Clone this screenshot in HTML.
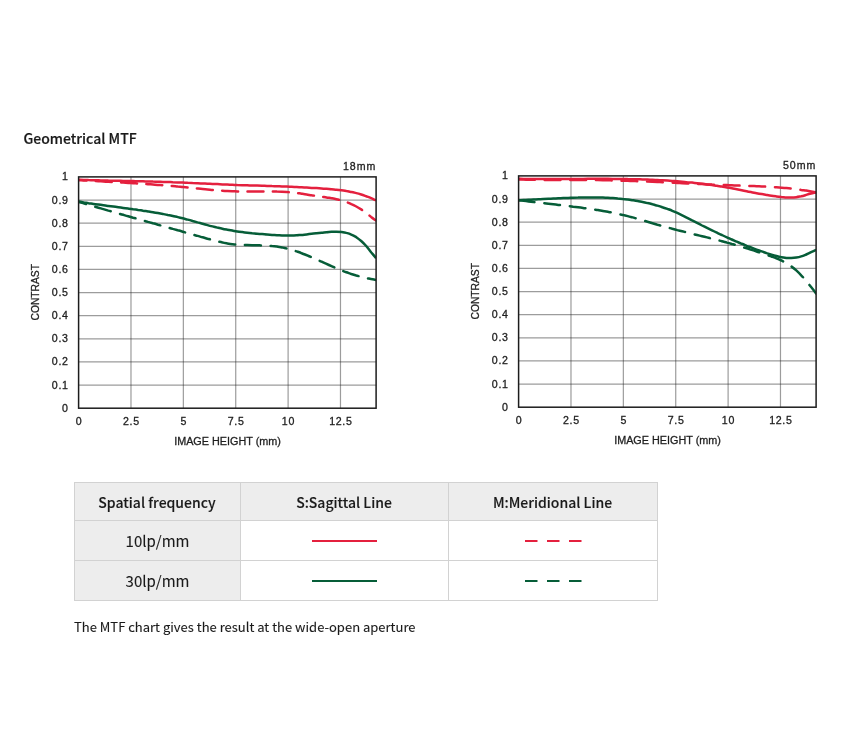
<!DOCTYPE html>
<html lang="en">
<head>
<meta charset="utf-8">
<title>Geometrical MTF</title>
<style>
html,body{margin:0;padding:0;background:#fff;}
body{width:848px;height:741px;position:relative;overflow:hidden;font-family:"Noto Sans CJK JP","Liberation Sans",sans-serif;color:#1a1a1a;}
h2{-webkit-text-stroke:0.2px #1a1a1a;position:absolute;left:23.5px;top:128px;margin:0;font-size:14px;line-height:21px;font-weight:500;color:#1a1a1a;white-space:nowrap;}
svg.charts{position:absolute;left:0;top:0;filter:blur(0.3px);}
svg.charts .lbl text{font-family:"Liberation Sans",sans-serif;font-size:10.6px;fill:#1e1e1e;stroke:#1e1e1e;stroke-width:0.3px;}
svg.charts .lbl text.ax{font-size:11px;}
table{position:absolute;left:74px;top:482px;width:583px;border-collapse:collapse;table-layout:fixed;}
td,th{border:1px solid #d2d2d2;height:40px;padding:0;text-align:center;vertical-align:middle;font-size:14px;font-weight:500;color:#1a1a1a;box-sizing:border-box;}
th,td.h{background:#ededed;}
th{height:38px;padding:1px 1px 0 0;-webkit-text-stroke:0.12px #1a1a1a;}
td.h{font-weight:400;font-size:15px;-webkit-text-stroke:0.1px #1a1a1a;}
col.c1{width:166px;} col.c2{width:208px;} col.c3{width:209px;}
.ln{display:block;margin:0 auto;}
p.note{-webkit-text-stroke:0.1px #1a1a1a;position:absolute;left:74px;top:617px;margin:0;font-size:13px;line-height:20px;color:#1a1a1a;white-space:nowrap;}
</style>
</head>
<body>
<h2>Geometrical MTF</h2>
<svg class="charts" width="848" height="470" viewBox="0 0 848 470">
<path d="M78.60,385.07H376.10M78.60,361.94H376.10M78.60,338.81H376.10M78.60,315.68H376.10M78.60,292.55H376.10M78.60,269.42H376.10M78.60,246.29H376.10M78.60,223.16H376.10M78.60,200.03H376.10" stroke="#1e1e1e" stroke-opacity="0.44" stroke-width="1.2" fill="none"/>
<path d="M130.98,176.90V408.20M183.35,176.90V408.20M235.73,176.90V408.20M288.11,176.90V408.20M340.48,176.90V408.20" stroke="#1e1e1e" stroke-opacity="0.44" stroke-width="1.2" fill="none"/>
<clipPath id="clip18mm"><rect x="78.60" y="176.90" width="297.50" height="231.30"/></clipPath><g clip-path="url(#clip18mm)">
<path d="M78.6,180.2C79.4,180.2 81.9,180.4 83.6,180.5C85.2,180.5 86.9,180.6 88.5,180.7C90.2,180.8 91.8,180.9 93.5,181.0C95.1,181.0 96.8,181.1 98.4,181.2C100.1,181.3 101.7,181.4 103.4,181.5C105.0,181.6 106.7,181.7 108.3,181.8C110.0,181.8 111.7,181.9 113.3,182.0C115.0,182.1 116.6,182.2 118.3,182.3C119.9,182.4 121.6,182.5 123.2,182.6C124.9,182.7 126.5,182.8 128.2,182.9C129.8,183.0 131.5,183.1 133.1,183.2C134.8,183.3 136.4,183.4 138.1,183.5C139.8,183.6 141.4,183.7 143.1,183.9C144.7,184.0 146.4,184.1 148.0,184.2C149.7,184.3 151.3,184.4 153.0,184.5C154.6,184.7 156.3,184.8 157.9,184.9C159.6,185.0 161.2,185.2 162.9,185.3C164.5,185.4 166.2,185.6 167.8,185.7C169.5,185.8 171.2,186.0 172.8,186.1C174.5,186.3 176.1,186.4 177.8,186.6C179.4,186.7 181.1,186.9 182.7,187.0C184.4,187.2 186.0,187.4 187.7,187.5C189.3,187.7 191.0,187.9 192.6,188.0C194.3,188.2 195.9,188.4 197.6,188.5C199.3,188.7 200.9,188.9 202.6,189.0C204.2,189.2 205.9,189.4 207.5,189.5C209.2,189.7 210.8,189.8 212.5,190.0C214.1,190.1 215.8,190.3 217.4,190.4C219.1,190.5 220.7,190.6 222.4,190.7C224.0,190.9 225.7,191.0 227.3,191.0C229.0,191.1 230.7,191.2 232.3,191.3C234.0,191.3 235.6,191.4 237.3,191.4C238.9,191.4 240.6,191.5 242.2,191.5C243.9,191.5 245.5,191.5 247.2,191.5C248.8,191.5 250.5,191.5 252.1,191.5C253.8,191.5 255.4,191.5 257.1,191.5C258.8,191.5 260.4,191.5 262.1,191.5C263.7,191.5 265.4,191.5 267.0,191.5C268.7,191.5 270.3,191.5 272.0,191.5C273.6,191.5 275.3,191.5 276.9,191.6C278.6,191.6 280.2,191.6 281.9,191.7C283.5,191.8 285.2,191.9 286.9,192.0C288.5,192.1 290.2,192.2 291.8,192.4C293.5,192.6 295.1,192.8 296.8,193.0C298.4,193.2 300.1,193.5 301.7,193.7C303.4,194.0 305.0,194.3 306.7,194.5C308.3,194.8 310.0,195.0 311.6,195.3C313.3,195.5 314.9,195.8 316.6,196.0C318.3,196.3 319.9,196.5 321.6,196.7C323.2,196.9 324.9,197.2 326.5,197.4C328.2,197.7 329.8,197.9 331.5,198.2C333.1,198.5 334.8,198.8 336.4,199.2C338.1,199.6 339.7,200.0 341.4,200.5C343.0,201.0 344.7,201.5 346.4,202.1C348.0,202.7 349.7,203.3 351.3,204.1C353.0,204.8 354.6,205.6 356.3,206.5C357.9,207.4 359.6,208.4 361.2,209.4C362.9,210.5 364.5,211.7 366.2,212.9C367.8,214.1 369.5,215.6 371.1,216.9C372.8,218.2 375.3,220.0 376.1,220.6" stroke="#e4203e" stroke-width="2.5" fill="none" stroke-linecap="round" stroke-dasharray="15.99 9.37" stroke-dashoffset="8.20"/>
<path d="M78.6,179.8C79.4,179.8 81.9,179.9 83.6,179.9C85.2,180.0 86.9,180.0 88.5,180.1C90.2,180.1 91.8,180.2 93.5,180.2C95.1,180.3 96.8,180.3 98.4,180.3C100.1,180.4 101.7,180.4 103.4,180.5C105.0,180.5 106.7,180.5 108.3,180.6C110.0,180.6 111.7,180.6 113.3,180.7C115.0,180.7 116.6,180.8 118.3,180.8C119.9,180.8 121.6,180.9 123.2,180.9C124.9,180.9 126.5,181.0 128.2,181.0C129.8,181.0 131.5,181.1 133.1,181.1C134.8,181.1 136.4,181.2 138.1,181.2C139.8,181.3 141.4,181.3 143.1,181.3C144.7,181.4 146.4,181.4 148.0,181.5C149.7,181.5 151.3,181.5 153.0,181.6C154.6,181.6 156.3,181.7 157.9,181.7C159.6,181.8 161.2,181.8 162.9,181.9C164.5,181.9 166.2,182.0 167.8,182.0C169.5,182.1 171.2,182.1 172.8,182.2C174.5,182.2 176.1,182.3 177.8,182.4C179.4,182.4 181.1,182.5 182.7,182.5C184.4,182.6 186.0,182.7 187.7,182.8C189.3,182.8 191.0,182.9 192.6,183.0C194.3,183.0 195.9,183.1 197.6,183.2C199.3,183.3 200.9,183.4 202.6,183.4C204.2,183.5 205.9,183.6 207.5,183.7C209.2,183.8 210.8,183.8 212.5,183.9C214.1,184.0 215.8,184.1 217.4,184.1C219.1,184.2 220.7,184.3 222.4,184.4C224.0,184.4 225.7,184.5 227.3,184.6C229.0,184.7 230.7,184.7 232.3,184.8C234.0,184.9 235.6,184.9 237.3,185.0C238.9,185.0 240.6,185.1 242.2,185.2C243.9,185.2 245.5,185.3 247.2,185.3C248.8,185.4 250.5,185.4 252.1,185.5C253.8,185.5 255.4,185.6 257.1,185.6C258.8,185.7 260.4,185.7 262.1,185.7C263.7,185.8 265.4,185.8 267.0,185.9C268.7,185.9 270.3,186.0 272.0,186.1C273.6,186.1 275.3,186.2 276.9,186.2C278.6,186.3 280.2,186.3 281.9,186.4C283.5,186.5 285.2,186.5 286.9,186.6C288.5,186.7 290.2,186.8 291.8,186.8C293.5,186.9 295.1,187.0 296.8,187.1C298.4,187.2 300.1,187.2 301.7,187.3C303.4,187.4 305.0,187.5 306.7,187.6C308.3,187.7 310.0,187.8 311.6,187.9C313.3,187.9 314.9,188.0 316.6,188.1C318.3,188.2 319.9,188.3 321.6,188.4C323.2,188.6 324.9,188.7 326.5,188.8C328.2,188.9 329.8,189.1 331.5,189.2C333.1,189.4 334.8,189.5 336.4,189.7C338.1,189.9 339.7,190.1 341.4,190.3C343.0,190.5 344.7,190.8 346.4,191.1C348.0,191.3 349.7,191.7 351.3,192.0C353.0,192.3 354.6,192.7 356.3,193.1C357.9,193.5 359.6,194.0 361.2,194.5C362.9,195.0 364.5,195.6 366.2,196.2C367.8,196.8 369.5,197.4 371.1,198.1C372.8,198.8 375.3,200.1 376.1,200.4" stroke="#e4203e" stroke-width="2.5" fill="none"/>
<path d="M78.6,201.8C79.4,202.1 81.9,202.8 83.6,203.3C85.2,203.8 86.9,204.3 88.5,204.8C90.2,205.2 91.8,205.7 93.5,206.2C95.1,206.7 96.8,207.2 98.4,207.7C100.1,208.2 101.7,208.6 103.4,209.1C105.0,209.6 106.7,210.1 108.3,210.6C110.0,211.0 111.7,211.5 113.3,212.0C115.0,212.5 116.6,212.9 118.3,213.4C119.9,213.9 121.6,214.4 123.2,214.8C124.9,215.3 126.5,215.8 128.2,216.2C129.8,216.7 131.5,217.2 133.1,217.7C134.8,218.1 136.4,218.6 138.1,219.1C139.8,219.5 141.4,220.0 143.1,220.5C144.7,220.9 146.4,221.4 148.0,221.9C149.7,222.3 151.3,222.8 153.0,223.3C154.6,223.7 156.3,224.2 157.9,224.7C159.6,225.1 161.2,225.6 162.9,226.1C164.5,226.5 166.2,227.0 167.8,227.5C169.5,227.9 171.2,228.4 172.8,228.9C174.5,229.3 176.1,229.8 177.8,230.3C179.4,230.7 181.1,231.2 182.7,231.7C184.4,232.2 186.0,232.6 187.7,233.1C189.3,233.6 191.0,234.0 192.6,234.5C194.3,235.0 195.9,235.4 197.6,235.9C199.3,236.4 200.9,236.8 202.6,237.3C204.2,237.8 205.9,238.2 207.5,238.7C209.2,239.1 210.8,239.6 212.5,240.0C214.1,240.5 215.8,240.9 217.4,241.3C219.1,241.7 220.7,242.1 222.4,242.4C224.0,242.8 225.7,243.1 227.3,243.4C229.0,243.7 230.7,244.0 232.3,244.2C234.0,244.4 235.6,244.6 237.3,244.7C238.9,244.9 240.6,244.9 242.2,245.0C243.9,245.1 245.5,245.1 247.2,245.1C248.8,245.2 250.5,245.2 252.1,245.2C253.8,245.2 255.4,245.2 257.1,245.3C258.8,245.3 260.4,245.4 262.1,245.4C263.7,245.5 265.4,245.6 267.0,245.7C268.7,245.8 270.3,245.9 272.0,246.1C273.6,246.2 275.3,246.4 276.9,246.6C278.6,246.9 280.2,247.1 281.9,247.4C283.5,247.8 285.2,248.1 286.9,248.5C288.5,248.9 290.2,249.3 291.8,249.8C293.5,250.3 295.1,250.9 296.8,251.4C298.4,252.0 300.1,252.6 301.7,253.3C303.4,253.9 305.0,254.6 306.7,255.2C308.3,255.9 310.0,256.6 311.6,257.3C313.3,258.1 314.9,258.8 316.6,259.5C318.3,260.3 319.9,261.0 321.6,261.7C323.2,262.5 324.9,263.2 326.5,263.9C328.2,264.7 329.8,265.4 331.5,266.1C333.1,266.8 334.8,267.6 336.4,268.3C338.1,269.0 339.7,269.7 341.4,270.4C343.0,271.0 344.7,271.7 346.4,272.3C348.0,272.9 349.7,273.4 351.3,274.0C353.0,274.5 354.6,275.0 356.3,275.5C357.9,275.9 359.6,276.4 361.2,276.8C362.9,277.2 364.5,277.6 366.2,278.0C367.8,278.4 369.5,278.7 371.1,279.1C372.8,279.4 375.3,279.9 376.1,280.1" stroke="#065d38" stroke-width="2.5" fill="none" stroke-linecap="round" stroke-dasharray="16.04 9.74" stroke-dashoffset="8.36"/>
<path d="M78.6,201.6C79.4,201.7 81.9,202.1 83.6,202.4C85.2,202.7 86.9,202.9 88.5,203.2C90.2,203.4 91.8,203.7 93.5,203.9C95.1,204.2 96.8,204.4 98.4,204.6C100.1,204.9 101.7,205.1 103.4,205.3C105.0,205.6 106.7,205.8 108.3,206.0C110.0,206.2 111.7,206.4 113.3,206.6C115.0,206.9 116.6,207.1 118.3,207.3C119.9,207.5 121.6,207.7 123.2,207.9C124.9,208.2 126.5,208.4 128.2,208.6C129.8,208.8 131.5,209.0 133.1,209.3C134.8,209.5 136.4,209.7 138.1,210.0C139.8,210.2 141.4,210.4 143.1,210.7C144.7,210.9 146.4,211.2 148.0,211.4C149.7,211.7 151.3,212.0 153.0,212.2C154.6,212.5 156.3,212.8 157.9,213.1C159.6,213.4 161.2,213.7 162.9,214.0C164.5,214.3 166.2,214.6 167.8,215.0C169.5,215.3 171.2,215.6 172.8,216.0C174.5,216.4 176.1,216.7 177.8,217.1C179.4,217.5 181.1,217.9 182.7,218.3C184.4,218.7 186.0,219.2 187.7,219.6C189.3,220.0 191.0,220.5 192.6,221.0C194.3,221.4 195.9,221.9 197.6,222.4C199.3,222.8 200.9,223.3 202.6,223.7C204.2,224.2 205.9,224.7 207.5,225.1C209.2,225.6 210.8,226.0 212.5,226.4C214.1,226.8 215.8,227.2 217.4,227.6C219.1,228.0 220.7,228.4 222.4,228.7C224.0,229.1 225.7,229.4 227.3,229.7C229.0,230.0 230.7,230.3 232.3,230.6C234.0,230.9 235.6,231.2 237.3,231.4C238.9,231.7 240.6,231.9 242.2,232.1C243.9,232.3 245.5,232.5 247.2,232.7C248.8,232.9 250.5,233.1 252.1,233.3C253.8,233.4 255.4,233.6 257.1,233.7C258.8,233.8 260.4,234.0 262.1,234.1C263.7,234.2 265.4,234.4 267.0,234.5C268.7,234.6 270.3,234.7 272.0,234.9C273.6,235.0 275.3,235.1 276.9,235.2C278.6,235.3 280.2,235.4 281.9,235.5C283.5,235.5 285.2,235.6 286.9,235.6C288.5,235.6 290.2,235.6 291.8,235.5C293.5,235.5 295.1,235.4 296.8,235.3C298.4,235.2 300.1,235.0 301.7,234.9C303.4,234.7 305.0,234.6 306.7,234.4C308.3,234.2 310.0,234.0 311.6,233.8C313.3,233.7 314.9,233.5 316.6,233.3C318.3,233.1 319.9,232.9 321.6,232.7C323.2,232.5 324.9,232.4 326.5,232.2C328.2,232.1 329.8,231.9 331.5,231.8C333.1,231.7 334.8,231.7 336.4,231.7C338.1,231.7 339.7,231.8 341.4,232.0C343.0,232.2 344.7,232.4 346.4,232.9C348.0,233.3 349.7,233.8 351.3,234.6C353.0,235.3 354.6,236.2 356.3,237.2C357.9,238.3 359.6,239.6 361.2,241.0C362.9,242.5 364.5,244.1 366.2,246.0C367.8,247.9 369.5,250.2 371.1,252.2C372.8,254.2 375.3,257.1 376.1,258.1" stroke="#065d38" stroke-width="2.5" fill="none"/>
</g>
<rect x="78.60" y="176.90" width="297.50" height="231.30" fill="none" stroke="#1c1c1c" stroke-width="1.5"/>
<g class="lbl"><text transform="translate(68.70,411.75)" text-anchor="end" letter-spacing="0.7">0</text><text transform="translate(68.70,388.62)" text-anchor="end" letter-spacing="0.7">0.1</text><text transform="translate(68.70,365.49)" text-anchor="end" letter-spacing="0.7">0.2</text><text transform="translate(68.70,342.36)" text-anchor="end" letter-spacing="0.7">0.3</text><text transform="translate(68.70,319.23)" text-anchor="end" letter-spacing="0.7">0.4</text><text transform="translate(68.70,296.10)" text-anchor="end" letter-spacing="0.7">0.5</text><text transform="translate(68.70,272.97)" text-anchor="end" letter-spacing="0.7">0.6</text><text transform="translate(68.70,249.84)" text-anchor="end" letter-spacing="0.7">0.7</text><text transform="translate(68.70,226.71)" text-anchor="end" letter-spacing="0.7">0.8</text><text transform="translate(68.70,203.58)" text-anchor="end" letter-spacing="0.7">0.9</text><text transform="translate(68.70,180.45)" text-anchor="end" letter-spacing="0.7">1</text><text transform="translate(78.95,425.30)" text-anchor="middle" letter-spacing="0.7">0</text><text transform="translate(131.33,425.30)" text-anchor="middle" letter-spacing="0.7">2.5</text><text transform="translate(183.70,425.30)" text-anchor="middle" letter-spacing="0.7">5</text><text transform="translate(236.08,425.30)" text-anchor="middle" letter-spacing="0.7">7.5</text><text transform="translate(288.46,425.30)" text-anchor="middle" letter-spacing="0.7">10</text><text transform="translate(340.83,425.30)" text-anchor="middle" letter-spacing="0.7">12.5</text><text transform="translate(227.55,444.60) scale(0.985,1)" text-anchor="middle" class="ax">IMAGE HEIGHT (mm)</text><text transform="translate(376.25,170.00)" text-anchor="end" letter-spacing="0.95">18mm</text><text transform="translate(39.00,292.25) rotate(-90) scale(0.935,1)" text-anchor="middle" class="ax">CONTRAST</text></g>
<path d="M518.60,384.07H816.10M518.60,360.94H816.10M518.60,337.81H816.10M518.60,314.68H816.10M518.60,291.55H816.10M518.60,268.42H816.10M518.60,245.29H816.10M518.60,222.16H816.10M518.60,199.03H816.10" stroke="#1e1e1e" stroke-opacity="0.44" stroke-width="1.2" fill="none"/>
<path d="M570.98,175.90V407.20M623.35,175.90V407.20M675.73,175.90V407.20M728.11,175.90V407.20M780.48,175.90V407.20" stroke="#1e1e1e" stroke-opacity="0.44" stroke-width="1.2" fill="none"/>
<clipPath id="clip50mm"><rect x="518.60" y="175.90" width="297.50" height="231.30"/></clipPath><g clip-path="url(#clip50mm)">
<path d="M518.6,179.5C519.4,179.5 521.9,179.6 523.6,179.6C525.2,179.6 526.9,179.7 528.5,179.7C530.2,179.7 531.8,179.8 533.5,179.8C535.1,179.8 536.8,179.8 538.4,179.8C540.1,179.9 541.7,179.9 543.4,179.9C545.0,179.9 546.7,179.9 548.4,179.9C550.0,179.9 551.7,179.9 553.3,179.9C555.0,179.9 556.6,179.9 558.3,179.9C559.9,179.9 561.6,180.0 563.2,180.0C564.9,180.0 566.5,180.0 568.2,180.0C569.8,180.0 571.5,180.0 573.1,180.0C574.8,180.0 576.4,180.0 578.1,180.0C579.8,180.0 581.4,180.0 583.1,180.0C584.7,180.0 586.4,180.0 588.0,180.0C589.7,180.1 591.3,180.1 593.0,180.1C594.6,180.1 596.3,180.1 597.9,180.1C599.6,180.2 601.2,180.2 602.9,180.2C604.5,180.2 606.2,180.3 607.9,180.3C609.5,180.3 611.2,180.4 612.8,180.4C614.5,180.5 616.1,180.5 617.8,180.5C619.4,180.6 621.1,180.6 622.7,180.7C624.4,180.7 626.0,180.8 627.7,180.8C629.3,180.9 631.0,180.9 632.6,181.0C634.3,181.1 635.9,181.1 637.6,181.2C639.3,181.2 640.9,181.3 642.6,181.4C644.2,181.4 645.9,181.5 647.5,181.6C649.2,181.6 650.8,181.7 652.5,181.8C654.1,181.8 655.8,181.9 657.4,182.0C659.1,182.1 660.7,182.1 662.4,182.2C664.0,182.3 665.7,182.4 667.4,182.4C669.0,182.5 670.7,182.6 672.3,182.7C674.0,182.8 675.6,182.8 677.3,182.9C678.9,183.0 680.6,183.1 682.2,183.2C683.9,183.2 685.5,183.3 687.2,183.4C688.8,183.5 690.5,183.6 692.1,183.6C693.8,183.7 695.4,183.8 697.1,183.9C698.8,184.0 700.4,184.0 702.1,184.1C703.7,184.2 705.4,184.3 707.0,184.4C708.7,184.4 710.3,184.5 712.0,184.6C713.6,184.6 715.3,184.7 716.9,184.8C718.6,184.8 720.2,184.9 721.9,185.0C723.5,185.0 725.2,185.1 726.9,185.1C728.5,185.2 730.2,185.3 731.8,185.3C733.5,185.4 735.1,185.4 736.8,185.5C738.4,185.5 740.1,185.6 741.7,185.7C743.4,185.7 745.0,185.8 746.7,185.8C748.3,185.9 750.0,185.9 751.6,186.0C753.3,186.1 754.9,186.1 756.6,186.2C758.3,186.3 759.9,186.3 761.6,186.4C763.2,186.5 764.9,186.6 766.5,186.7C768.2,186.7 769.8,186.8 771.5,186.9C773.1,187.0 774.8,187.2 776.4,187.3C778.1,187.4 779.7,187.5 781.4,187.7C783.0,187.8 784.7,187.9 786.4,188.1C788.0,188.3 789.7,188.4 791.3,188.6C793.0,188.8 794.6,189.0 796.3,189.2C797.9,189.4 799.6,189.6 801.2,189.9C802.9,190.1 804.5,190.4 806.2,190.6C807.8,190.9 809.5,191.2 811.1,191.5C812.8,191.8 815.3,192.3 816.1,192.5" stroke="#e4203e" stroke-width="2.5" fill="none" stroke-linecap="round" stroke-dasharray="15.74 9.86" stroke-dashoffset="-0.51"/>
<path d="M518.6,178.8C519.4,178.8 521.9,178.9 523.6,178.9C525.2,178.9 526.9,178.9 528.5,178.9C530.2,179.0 531.8,179.0 533.5,179.0C535.1,179.0 536.8,179.0 538.4,179.0C540.1,179.0 541.7,179.0 543.4,179.0C545.0,179.0 546.7,179.0 548.4,179.0C550.0,179.0 551.7,179.0 553.3,179.0C555.0,179.0 556.6,179.0 558.3,179.0C559.9,179.0 561.6,179.0 563.2,179.0C564.9,179.0 566.5,178.9 568.2,178.9C569.8,178.9 571.5,178.9 573.1,178.9C574.8,178.9 576.4,178.9 578.1,178.9C579.8,178.9 581.4,178.9 583.1,178.9C584.7,178.9 586.4,178.9 588.0,178.8C589.7,178.8 591.3,178.8 593.0,178.8C594.6,178.8 596.3,178.8 597.9,178.8C599.6,178.8 601.2,178.8 602.9,178.8C604.5,178.8 606.2,178.8 607.9,178.8C609.5,178.9 611.2,178.9 612.8,178.9C614.5,178.9 616.1,178.9 617.8,178.9C619.4,178.9 621.1,179.0 622.7,179.0C624.4,179.0 626.0,179.0 627.7,179.1C629.3,179.1 631.0,179.1 632.6,179.2C634.3,179.2 635.9,179.2 637.6,179.3C639.3,179.3 640.9,179.4 642.6,179.4C644.2,179.5 645.9,179.5 647.5,179.6C649.2,179.7 650.8,179.7 652.5,179.8C654.1,179.9 655.8,180.0 657.4,180.0C659.1,180.1 660.7,180.2 662.4,180.3C664.0,180.4 665.7,180.5 667.4,180.6C669.0,180.7 670.7,180.8 672.3,180.9C674.0,181.0 675.6,181.2 677.3,181.3C678.9,181.4 680.6,181.6 682.2,181.7C683.9,181.9 685.5,182.0 687.2,182.2C688.8,182.3 690.5,182.5 692.1,182.6C693.8,182.8 695.4,183.0 697.1,183.2C698.8,183.4 700.4,183.6 702.1,183.8C703.7,184.0 705.4,184.2 707.0,184.4C708.7,184.6 710.3,184.8 712.0,185.1C713.6,185.3 715.3,185.6 716.9,185.8C718.6,186.1 720.2,186.3 721.9,186.6C723.5,186.9 725.2,187.1 726.9,187.4C728.5,187.7 730.2,188.0 731.8,188.3C733.5,188.6 735.1,189.0 736.8,189.3C738.4,189.6 740.1,189.9 741.7,190.2C743.4,190.6 745.0,190.9 746.7,191.2C748.3,191.6 750.0,191.9 751.6,192.2C753.3,192.5 754.9,192.9 756.6,193.2C758.3,193.5 759.9,193.8 761.6,194.1C763.2,194.4 764.9,194.7 766.5,194.9C768.2,195.2 769.8,195.5 771.5,195.7C773.1,196.0 774.8,196.2 776.4,196.4C778.1,196.6 779.7,196.8 781.4,197.0C783.0,197.1 784.7,197.3 786.4,197.4C788.0,197.5 789.7,197.5 791.3,197.5C793.0,197.5 794.6,197.4 796.3,197.2C797.9,197.0 799.6,196.6 801.2,196.3C802.9,195.9 804.5,195.4 806.2,194.9C807.8,194.4 809.5,193.9 811.1,193.5C812.8,193.1 815.3,192.6 816.1,192.4" stroke="#e4203e" stroke-width="2.5" fill="none"/>
<path d="M518.6,200.2C519.4,200.3 521.9,200.6 523.6,200.8C525.2,201.0 526.9,201.2 528.5,201.4C530.2,201.6 531.8,201.8 533.5,202.0C535.1,202.2 536.8,202.4 538.4,202.5C540.1,202.7 541.7,202.9 543.4,203.1C545.0,203.3 546.7,203.5 548.4,203.7C550.0,203.9 551.7,204.1 553.3,204.3C555.0,204.5 556.6,204.7 558.3,204.9C559.9,205.1 561.6,205.3 563.2,205.5C564.9,205.7 566.5,205.9 568.2,206.1C569.8,206.2 571.5,206.4 573.1,206.7C574.8,206.9 576.4,207.1 578.1,207.3C579.8,207.5 581.4,207.7 583.1,207.9C584.7,208.1 586.4,208.4 588.0,208.6C589.7,208.8 591.3,209.1 593.0,209.3C594.6,209.6 596.3,209.8 597.9,210.1C599.6,210.4 601.2,210.6 602.9,210.9C604.5,211.2 606.2,211.5 607.9,211.8C609.5,212.1 611.2,212.4 612.8,212.8C614.5,213.1 616.1,213.5 617.8,213.8C619.4,214.2 621.1,214.6 622.7,214.9C624.4,215.3 626.0,215.7 627.7,216.1C629.3,216.6 631.0,217.0 632.6,217.4C634.3,217.9 635.9,218.3 637.6,218.8C639.3,219.3 640.9,219.7 642.6,220.2C644.2,220.7 645.9,221.2 647.5,221.7C649.2,222.2 650.8,222.7 652.5,223.2C654.1,223.7 655.8,224.2 657.4,224.7C659.1,225.1 660.7,225.6 662.4,226.1C664.0,226.6 665.7,227.0 667.4,227.5C669.0,227.9 670.7,228.3 672.3,228.8C674.0,229.2 675.6,229.6 677.3,230.1C678.9,230.5 680.6,230.9 682.2,231.3C683.9,231.7 685.5,232.1 687.2,232.5C688.8,232.9 690.5,233.3 692.1,233.8C693.8,234.2 695.4,234.6 697.1,235.0C698.8,235.4 700.4,235.8 702.1,236.2C703.7,236.6 705.4,237.0 707.0,237.4C708.7,237.8 710.3,238.2 712.0,238.6C713.6,239.1 715.3,239.5 716.9,239.9C718.6,240.4 720.2,240.8 721.9,241.2C723.5,241.7 725.2,242.1 726.9,242.6C728.5,243.0 730.2,243.5 731.8,244.0C733.5,244.4 735.1,244.9 736.8,245.4C738.4,245.9 740.1,246.3 741.7,246.8C743.4,247.3 745.0,247.8 746.7,248.3C748.3,248.8 750.0,249.4 751.6,249.9C753.3,250.4 754.9,250.9 756.6,251.5C758.3,252.0 759.9,252.5 761.6,253.1C763.2,253.6 764.9,254.2 766.5,254.8C768.2,255.3 769.8,255.9 771.5,256.5C773.1,257.1 774.8,257.7 776.4,258.4C778.1,259.1 779.7,259.8 781.4,260.5C783.0,261.3 784.7,262.2 786.4,263.1C788.0,264.1 789.7,265.1 791.3,266.4C793.0,267.6 794.6,268.9 796.3,270.4C797.9,271.9 799.6,273.5 801.2,275.3C802.9,277.0 804.5,278.9 806.2,280.9C807.8,282.9 809.5,285.0 811.1,287.0C812.8,289.1 815.3,292.3 816.1,293.4" stroke="#065d38" stroke-width="2.5" fill="none" stroke-linecap="round" stroke-dasharray="15.68 9.96" stroke-dashoffset="-0.31"/>
<path d="M518.6,200.2C519.4,200.2 521.9,200.1 523.6,200.0C525.2,200.0 526.9,199.9 528.5,199.8C530.2,199.7 531.8,199.7 533.5,199.6C535.1,199.5 536.8,199.4 538.4,199.3C540.1,199.3 541.7,199.2 543.4,199.1C545.0,199.0 546.7,198.9 548.4,198.8C550.0,198.7 551.7,198.7 553.3,198.6C555.0,198.5 556.6,198.4 558.3,198.3C559.9,198.2 561.6,198.2 563.2,198.1C564.9,198.0 566.5,198.0 568.2,197.9C569.8,197.8 571.5,197.8 573.1,197.7C574.8,197.6 576.4,197.6 578.1,197.6C579.8,197.5 581.4,197.5 583.1,197.5C584.7,197.4 586.4,197.4 588.0,197.4C589.7,197.4 591.3,197.4 593.0,197.4C594.6,197.4 596.3,197.4 597.9,197.5C599.6,197.5 601.2,197.5 602.9,197.6C604.5,197.7 606.2,197.7 607.9,197.8C609.5,197.9 611.2,198.0 612.8,198.1C614.5,198.2 616.1,198.3 617.8,198.5C619.4,198.6 621.1,198.8 622.7,199.0C624.4,199.1 626.0,199.3 627.7,199.5C629.3,199.8 631.0,200.0 632.6,200.2C634.3,200.5 635.9,200.8 637.6,201.0C639.3,201.3 640.9,201.7 642.6,202.0C644.2,202.3 645.9,202.7 647.5,203.1C649.2,203.4 650.8,203.8 652.5,204.3C654.1,204.7 655.8,205.2 657.4,205.6C659.1,206.1 660.7,206.6 662.4,207.2C664.0,207.7 665.7,208.3 667.4,208.9C669.0,209.5 670.7,210.1 672.3,210.8C674.0,211.5 675.6,212.2 677.3,212.9C678.9,213.7 680.6,214.5 682.2,215.3C683.9,216.1 685.5,217.0 687.2,217.8C688.8,218.7 690.5,219.5 692.1,220.4C693.8,221.2 695.4,222.1 697.1,222.9C698.8,223.8 700.4,224.6 702.1,225.5C703.7,226.3 705.4,227.1 707.0,227.9C708.7,228.7 710.3,229.5 712.0,230.3C713.6,231.1 715.3,231.9 716.9,232.7C718.6,233.5 720.2,234.3 721.9,235.0C723.5,235.8 725.2,236.6 726.9,237.3C728.5,238.0 730.2,238.8 731.8,239.5C733.5,240.2 735.1,241.0 736.8,241.7C738.4,242.4 740.1,243.1 741.7,243.8C743.4,244.4 745.0,245.1 746.7,245.8C748.3,246.4 750.0,247.1 751.6,247.7C753.3,248.4 754.9,249.0 756.6,249.6C758.3,250.2 759.9,250.8 761.6,251.4C763.2,252.0 764.9,252.5 766.5,253.1C768.2,253.6 769.8,254.1 771.5,254.6C773.1,255.1 774.8,255.6 776.4,256.0C778.1,256.5 779.7,256.9 781.4,257.2C783.0,257.5 784.7,257.7 786.4,257.9C788.0,258.0 789.7,258.1 791.3,258.0C793.0,258.0 794.6,257.9 796.3,257.6C797.9,257.3 799.6,256.9 801.2,256.4C802.9,255.9 804.5,255.2 806.2,254.5C807.8,253.8 809.5,253.0 811.1,252.2C812.8,251.5 815.3,250.3 816.1,249.9" stroke="#065d38" stroke-width="2.5" fill="none"/>
</g>
<rect x="518.60" y="175.90" width="297.50" height="231.30" fill="none" stroke="#1c1c1c" stroke-width="1.5"/>
<g class="lbl"><text transform="translate(508.70,410.75)" text-anchor="end" letter-spacing="0.7">0</text><text transform="translate(508.70,387.62)" text-anchor="end" letter-spacing="0.7">0.1</text><text transform="translate(508.70,364.49)" text-anchor="end" letter-spacing="0.7">0.2</text><text transform="translate(508.70,341.36)" text-anchor="end" letter-spacing="0.7">0.3</text><text transform="translate(508.70,318.23)" text-anchor="end" letter-spacing="0.7">0.4</text><text transform="translate(508.70,295.10)" text-anchor="end" letter-spacing="0.7">0.5</text><text transform="translate(508.70,271.97)" text-anchor="end" letter-spacing="0.7">0.6</text><text transform="translate(508.70,248.84)" text-anchor="end" letter-spacing="0.7">0.7</text><text transform="translate(508.70,225.71)" text-anchor="end" letter-spacing="0.7">0.8</text><text transform="translate(508.70,202.58)" text-anchor="end" letter-spacing="0.7">0.9</text><text transform="translate(508.70,179.45)" text-anchor="end" letter-spacing="0.7">1</text><text transform="translate(518.95,424.30)" text-anchor="middle" letter-spacing="0.7">0</text><text transform="translate(571.33,424.30)" text-anchor="middle" letter-spacing="0.7">2.5</text><text transform="translate(623.70,424.30)" text-anchor="middle" letter-spacing="0.7">5</text><text transform="translate(676.08,424.30)" text-anchor="middle" letter-spacing="0.7">7.5</text><text transform="translate(728.46,424.30)" text-anchor="middle" letter-spacing="0.7">10</text><text transform="translate(780.83,424.30)" text-anchor="middle" letter-spacing="0.7">12.5</text><text transform="translate(667.55,443.60) scale(0.985,1)" text-anchor="middle" class="ax">IMAGE HEIGHT (mm)</text><text transform="translate(816.25,169.00)" text-anchor="end" letter-spacing="0.95">50mm</text><text transform="translate(479.00,291.25) rotate(-90) scale(0.935,1)" text-anchor="middle" class="ax">CONTRAST</text></g>
</svg>
<table>
<colgroup><col class="c1"><col class="c2"><col class="c3"></colgroup>
<tr><th>Spatial frequency</th><th>S:Sagittal Line</th><th>M:Meridional Line</th></tr>
<tr><td class="h">10lp/mm</td><td><svg class="ln" width="65" height="4" viewBox="0 0 65 4"><path d="M0,2H65" stroke="#e4203e" stroke-width="2"/></svg></td><td><svg class="ln" width="57" height="4" viewBox="0 0 57 4"><path d="M0,2H57" stroke="#e4203e" stroke-width="2" stroke-dasharray="12.5 9.5"/></svg></td></tr>
<tr><td class="h">30lp/mm</td><td><svg class="ln" width="65" height="4" viewBox="0 0 65 4"><path d="M0,2H65" stroke="#065d38" stroke-width="2"/></svg></td><td><svg class="ln" width="57" height="4" viewBox="0 0 57 4"><path d="M0,2H57" stroke="#065d38" stroke-width="2" stroke-dasharray="12.5 9.5"/></svg></td></tr>
</table>
<p class="note">The MTF chart gives the result at the wide-open aperture</p>
</body>
</html>
